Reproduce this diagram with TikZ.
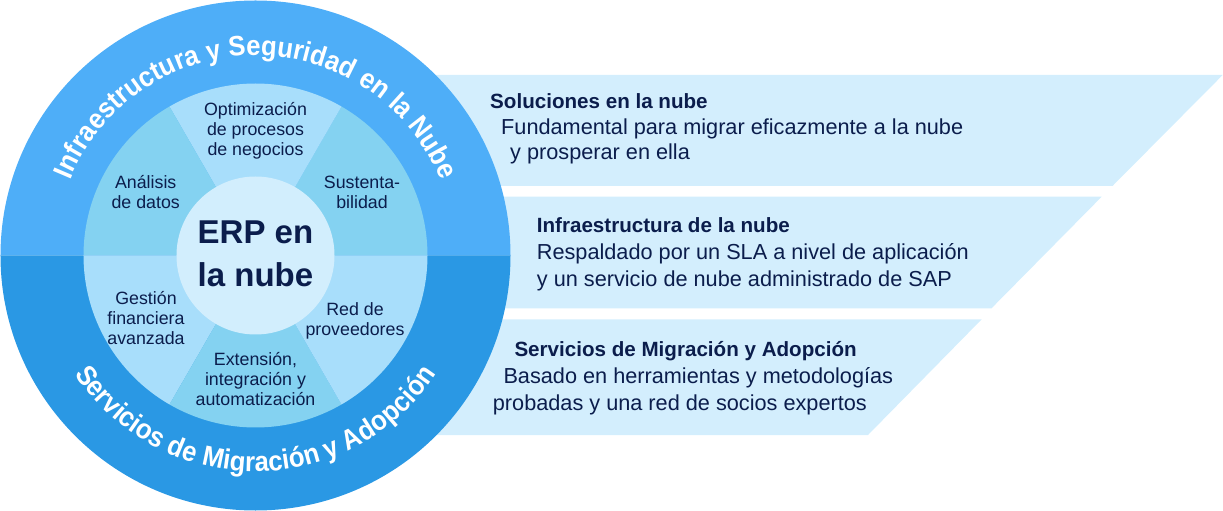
\documentclass[tikz,border=0pt]{standalone}
\usepackage{fontspec}
\setmainfont{Liberation Sans}
\newfontfamily\ringfam[FakeStretch=0.92]{Liberation Sans}
\usetikzlibrary{decorations.text}
\definecolor{ringtop}{HTML}{4EAEF8}
\definecolor{ringbot}{HTML}{2A98E4}
\definecolor{seglight}{HTML}{A8DEFB}
\definecolor{segdark}{HTML}{84D2F1}
\definecolor{core}{HTML}{D2EEFD}
\definecolor{bannerblue}{HTML}{D3EEFD}
\definecolor{navy}{HTML}{0B1D4C}
\newcommand{\ringfont}{\ringfam\bfseries\fontsize{28}{32}\selectfont\color{white}}
\begin{document}
\begin{tikzpicture}[x=1pt,y=1pt,
  segtext/.style={font=\fontsize{17.8}{20}\selectfont, text=navy, align=center, anchor=base, inner sep=0pt},
  bantitle/.style={font=\bfseries\fontsize{20.6}{24}\selectfont, text=navy, anchor=base west, inner sep=0pt},
  bantext/.style={font=\fontsize{21.7}{24}\selectfont, text=navy, anchor=base west, inner sep=0pt},
  bannerfill/.style={fill=bannerblue, draw=none}]
\useasboundingbox (-255.5,-255.5) rectangle (967.5,255.5);
% banners
\path[bannerfill] (0,180.5) -- (967.2,180.5) -- (857,69.5) -- (0,69.5) -- cycle;
\path[bannerfill] (0,58.8) -- (846.2,58.8) -- (736,-52.8) -- (0,-52.8) -- cycle;
\path[bannerfill] (0,-63.8) -- (726.2,-63.8) -- (612.5,-179.5) -- (0,-179.5) -- cycle;
% outer ring
\fill[ringtop] (255,0) arc (0:180:255) -- cycle;
\fill[ringbot] (-255,0) arc (180:360:255) -- cycle;
% segments
\fill[segdark]  (0,0) -- (0:172) arc (0:60:172) -- cycle;
\fill[seglight] (0,0) -- (60:172) arc (60:120:172) -- cycle;
\fill[segdark]  (0,0) -- (120:172) arc (120:180:172) -- cycle;
\fill[seglight] (0,0) -- (180:172) arc (180:240:172) -- cycle;
\fill[segdark]  (0,0) -- (240:172) arc (240:300:172) -- cycle;
\fill[seglight] (0,0) -- (300:172) arc (300:360:172) -- cycle;
\fill[core] (0,0) circle (79);
% curved ring texts
\path[decorate, decoration={text along path, text align=center,
  text={|\ringfont|Infraestructura y Seguridad en la Nube}}] (170:200) arc (170:10:200);
\path[decorate, decoration={text along path, text align=center,
  text={|\ringfont|Servicios de Migración y Adopción}}] (198:216) arc (198:342:216);
% center
\node[font=\bfseries\fontsize{33}{42.7}\selectfont, text=navy, align=center, anchor=base, inner sep=0pt] (erp) at (0,-31.2) {ERP en\\la nube};
% segment texts (anchor = baseline of last line)
\node[segtext] (opt) at (0,99.8) {Optimización\\de procesos\\de negocios};
\node[segtext] (ana) at (-109.8,46.5) {Análisis\\de datos};
\node[segtext] (sus) at (106.5,46.5) {Sustenta-\\bilidad};
\node[segtext] (ges) at (-109.5,-88.5) {Gestión\\financiera\\avanzada};
\node[segtext] (red) at (99.5,-80.2) {Red de\\proveedores};
\node[segtext] (ext) at (0,-149.8) {Extensión,\\integración y\\automatización};
% banner texts
\node[bantitle] (t1) at (234.5,146.5) {Soluciones en la nube};
\node[bantext] (t1a) at (245.5,120.5) {Fundamental para migrar eficazmente a la nube};
\node[bantext] (t1b) at (254.5,95.5) {y prosperar en ella};
\node[bantitle] (t2) at (281.2,22.5) {Infraestructura de la nube};
\node[bantext] (t2a) at (281.2,-4.5) {Respaldado por un SLA a nivel de aplicación};
\node[bantext] (t2b) at (281.2,-31.5) {y un servicio de nube administrado de SAP};
\node[bantitle] (t3) at (258.8,-101.2) {Servicios de Migración y Adopción};
\node[bantext] (t3a) at (247.8,-127.8) {Basado en herramientas y metodologías};
\node[bantext] (t3b) at (237.2,-154.5) {probadas y una red de socios expertos};
\end{tikzpicture}
\end{document}
